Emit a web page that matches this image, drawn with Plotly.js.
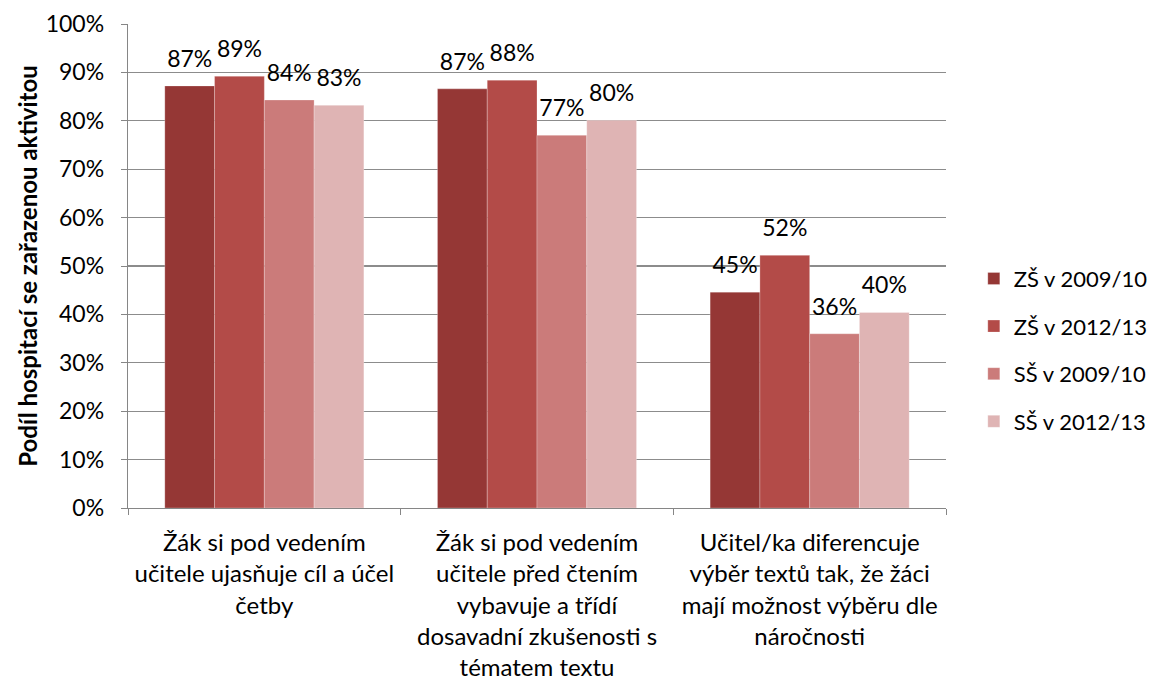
<!DOCTYPE html>
<html><head><meta charset="utf-8">
<script src="https://cdn.plot.ly/plotly-3.0.1.min.js"></script>
<style>body{margin:0;background:#fff}#c{width:1155px;height:681px}</style>
</head><body><div id="c"></div>
<script>
const categories = [
  "Žák si pod vedením<br>učitele ujasňuje cíl a účel<br>četby",
  "Žák si pod vedením<br>učitele před čtením<br>vybavuje a třídí<br>dosavadní zkušenosti s<br>tématem textu",
  "Učitel/ka diferencuje<br>výběr textů tak, že žáci<br>mají možnost výběru dle<br>náročnosti"
];
const seriesNames = ["ZŠ v 2009/10", "ZŠ v 2012/13", "SŠ v 2009/10", "SŠ v 2012/13"];
const zs2009 = [0.872, 0.866, 0.446];
const zs2012 = [0.892, 0.884, 0.522];
const ss2009 = [0.843, 0.770, 0.360];
const ss2012 = [0.832, 0.801, 0.404];
const seriesValues = [zs2009, zs2012, ss2009, ss2012];
const colors = ["#953735", "#B34B48", "#CB7B7A", "#DFB4B4"];
const yTickVals = [0,0.1,0.2,0.3,0.4,0.5,0.6,0.7,0.8,0.9,1.0];

const FONT = "Lato, 'Open Sans', sans-serif";
const traces = seriesNames.map((n, i) => ({
  type: 'bar', name: n, x: categories, y: seriesValues[i],
  marker: {color: colors[i], line: {color: 'rgba(255,255,255,0.5)', width: 0.5}},
  text: seriesValues[i].map(v => Math.round(v*100) + '%'),
  textposition: 'outside', cliponaxis: false,
  textfont: {family: FONT, size: 23, color: '#000'},
  legendgroup: 'g' + i, hoverinfo: 'skip'
}));

const layout = {
  width: 1155, height: 681,
  margin: {l: 128, r: 209, t: 24, b: 173, autoexpand: false},
  paper_bgcolor: '#fff', plot_bgcolor: '#fff',
  barmode: 'group', bargap: 0.27, bargroupgap: 0,
  font: {family: FONT, size: 22, color: '#000'},
  showlegend: true,
  legend: {x: 1.034, xanchor: 'left', y: 0.326, yanchor: 'middle',
    font: {family: FONT, size: 22, color: '#000'}, tracegroupgap: 16, itemwidth: 30},
  xaxis: {
    showline: true, linecolor: '#868686', linewidth: 1.3,
    ticks: 'outside', ticklen: 6, tickcolor: '#868686', tickson: 'boundaries',
    tickfont: {family: FONT, size: 24}, ticklabelstandoff: 13,
    showgrid: false, automargin: false
  },
  yaxis: {
    range: [0, 1], tickvals: yTickVals, tickformat: '.0%',
    showline: true, linecolor: '#868686', linewidth: 1.3,
    ticks: 'outside', ticklen: 6, tickcolor: '#868686', ticklabelstandoff: 12,
    showgrid: true, gridcolor: '#8C8C8C', gridwidth: 1.3, zeroline: false,
    tickfont: {family: FONT, size: 23},
    title: {text: '<b>Podíl hospitací se zařazenou aktivitou</b>', font: {family: FONT, size: 24}, standoff: 1},
    automargin: false
  }
};
Plotly.newPlot('c', traces, layout, {displayModeBar: false, staticPlot: true}).then(gd => {
  // lift the outside value labels a little further above the bars, as in the reference
  gd.querySelectorAll('text.bartext').forEach(t => {
    const tr = t.getAttribute('transform') || '';
    t.setAttribute('transform', 'translate(0,-11) ' + tr);
  });
});
</script></body></html>
